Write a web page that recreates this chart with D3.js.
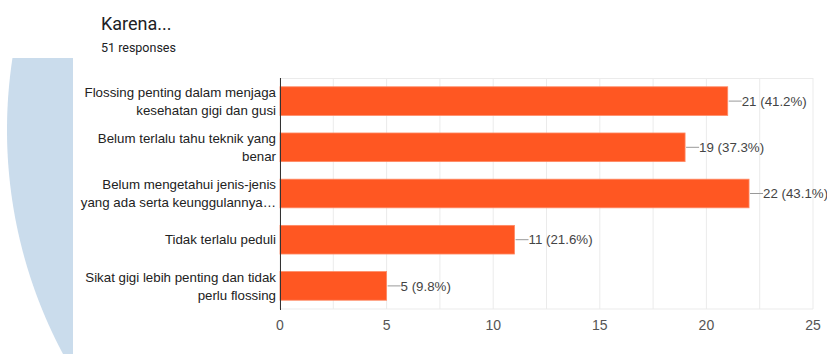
<!DOCTYPE html>
<html>
<head>
<meta charset="utf-8">
<script src="https://cdn.jsdelivr.net/npm/d3@7"></script>
<style>
  body { margin: 0; background: #fff; }
  #chart { width: 827px; height: 354px; }
</style>
</head>
<body>
<div id="chart"></div>
<script>
// data
const categories = [
    ["Flossing penting dalam menjaga", "kesehatan gigi dan gusi"],
    ["Belum terlalu tahu teknik yang", "benar"],
    ["Belum mengetahui jenis-jenis", "yang ada serta keunggulannya\u2026"],
    ["Tidak terlalu peduli"],
    ["Sikat gigi lebih penting dan tidak", "perlu flossing"]
];
const counts = [21, 19, 22, 11, 5];
const percents = ["41.2%", "37.3%", "43.1%", "21.6%", "9.8%"];
const xTicks = [0, 5, 10, 15, 20, 25];
const gridValues = d3.range(0, 25.01, 2.5);

const width = 827, height = 354;
const margin = { top: 78, right: 14, bottom: 45, left: 280 };
const plotW = width - margin.left - margin.right;
const plotH = height - margin.top - margin.bottom;

const svg = d3.select("#chart").append("svg")
    .attr("width", width)
    .attr("height", height);

// pale blue shape on the left edge
const R = 476, cx = 483, cy = 130;
const arcPts = d3.range(58, 355, 4).map(y => [cx - Math.sqrt(R * R - (y - cy) * (y - cy)), y]);
svg.append("path")
    .attr("d", d3.line()(arcPts.concat([[73, 354], [73, 58]])) + "Z")
    .attr("fill", "#cadcec");

// header
svg.append("text")
    .attr("x", 101).attr("y", 30)
    .attr("font-family", "Roboto, sans-serif")
    .attr("font-size", 18)
    .attr("fill", "#202124")
    .text("Karena...");

svg.append("text")
    .attr("x", 101).attr("y", 52)
    .attr("font-family", "Roboto, sans-serif")
    .attr("font-size", 12.5)
    .attr("fill", "#202124")
    .text("51 responses");

const g = svg.append("g")
    .attr("transform", "translate(" + margin.left + "," + margin.top + ")");

const x = d3.scaleLinear()
    .domain([0, 25])
    .range([0, plotW]);

const y = d3.scaleBand()
    .domain(d3.range(counts.length))
    .range([0, plotH])
    .paddingInner(0.38)
    .paddingOuter(0.19);

// grid
g.selectAll(".grid")
    .data(gridValues)
    .enter().append("line")
    .attr("class", "grid")
    .attr("x1", d => x(d)).attr("x2", d => x(d))
    .attr("y1", 0).attr("y2", plotH)
    .attr("stroke", "#ebebeb")
    .attr("stroke-width", 1);

g.append("line")
    .attr("x1", 0).attr("x2", plotW)
    .attr("y1", 0.5).attr("y2", 0.5)
    .attr("stroke", "#ebebeb");

g.append("line")
    .attr("x1", 0).attr("x2", plotW)
    .attr("y1", plotH).attr("y2", plotH)
    .attr("stroke", "#ebebeb");

// bars
g.selectAll(".bar")
    .data(counts)
    .enter().append("rect")
    .attr("class", "bar")
    .attr("x", x(0))
    .attr("y", (d, i) => y(i))
    .attr("width", d => x(d) - x(0))
    .attr("height", y.bandwidth())
    .attr("fill", "#ff5722")
    .attr("stroke", "#ff8a65")
    .attr("stroke-width", 0.8);

// leader lines and value labels
g.selectAll(".leader")
    .data(counts)
    .enter().append("line")
    .attr("class", "leader")
    .attr("x1", d => x(d) + 1)
    .attr("x2", d => x(d) + 14)
    .attr("y1", (d, i) => y(i) + y.bandwidth() / 2)
    .attr("y2", (d, i) => y(i) + y.bandwidth() / 2)
    .attr("stroke", "#999")
    .attr("stroke-width", 1);

g.selectAll(".value")
    .data(counts)
    .enter().append("text")
    .attr("class", "value")
    .attr("x", d => x(d) + 14)
    .attr("y", (d, i) => y(i) + y.bandwidth() / 2)
    .attr("dy", "0.36em")
    .attr("font-family", "'Liberation Sans', Arial, sans-serif")
    .attr("font-size", 13.3)
    .attr("fill", "#444")
    .text((d, i) => d + " (" + percents[i] + ")");

// category labels
const cat = g.selectAll(".cat")
    .data(categories)
    .enter().append("text")
    .attr("class", "cat")
    .attr("text-anchor", "end")
    .attr("font-family", "'Liberation Sans', Arial, sans-serif")
    .attr("font-size", 13.3)
    .attr("fill", "#222");

cat.each(function (lines, i) {
    const mid = y(i) + y.bandwidth() / 2;
    const lh = 18;
    const start = mid - (lines.length - 1) * lh / 2;
    d3.select(this).selectAll("tspan")
        .data(lines)
        .enter().append("tspan")
        .attr("x", -4)
        .attr("y", (d, j) => start + j * lh)
        .attr("dy", "0.36em")
        .text(d => d);
});

// x axis labels
g.selectAll(".tick-label")
    .data(xTicks)
    .enter().append("text")
    .attr("class", "tick-label")
    .attr("x", d => x(d))
    .attr("y", plotH + 16)
    .attr("dy", "0.36em")
    .attr("text-anchor", "middle")
    .attr("font-family", "'Liberation Sans', Arial, sans-serif")
    .attr("font-size", 14)
    .attr("fill", "#555")
    .text(d => d);

// y axis line
g.append("line")
    .attr("x1", 0.5).attr("x2", 0.5)
    .attr("y1", 0).attr("y2", plotH + 1)
    .attr("stroke", "#333")
    .attr("stroke-width", 1);
</script>
</body>
</html>
